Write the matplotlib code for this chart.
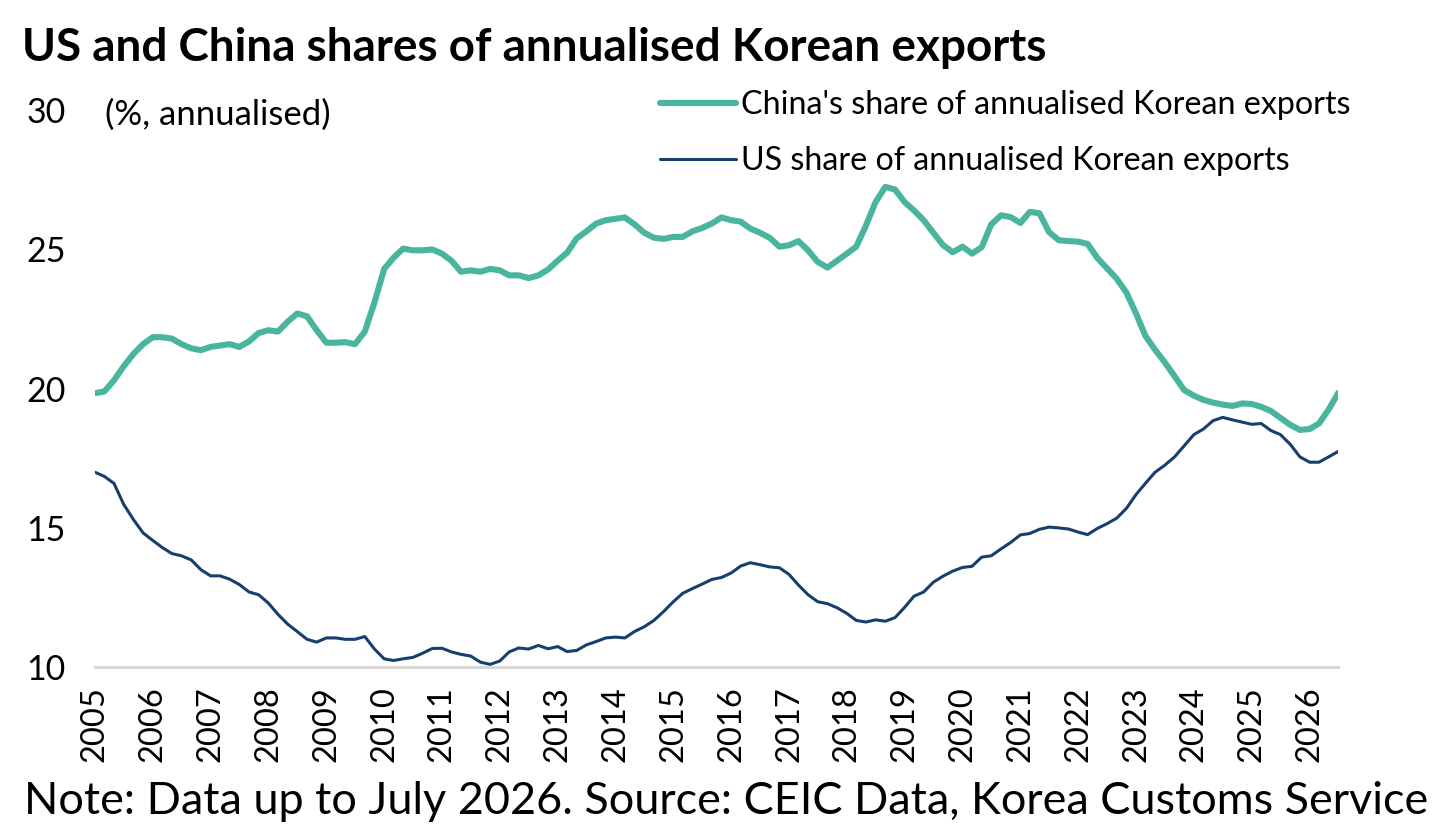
import numpy as np
import pandas as pd
import matplotlib
matplotlib.use("Agg")
import matplotlib.pyplot as plt
import matplotlib.dates as mdates

plt.rcParams['font.family'] = ['Lato', 'DejaVu Sans']

# bimonthly readings, Jan 2005 .. Jul 2026
china_share = [
    19.84, 19.9, 20.3, 20.8, 21.25, 21.6, 21.85, 21.85, 21.8, 21.6,
    21.45, 21.38, 21.5, 21.55, 21.6, 21.5, 21.7, 22.0, 22.1, 22.05,
    22.4, 22.7, 22.6, 22.1, 21.65, 21.65, 21.67, 21.6, 22.05, 23.1,
    24.3, 24.7, 25.03, 24.97, 24.97, 25.0, 24.85, 24.6, 24.2, 24.25,
    24.2, 24.3, 24.25, 24.07, 24.07, 23.97, 24.07, 24.28, 24.6, 24.88,
    25.4, 25.65, 25.93, 26.05, 26.1, 26.15, 25.9, 25.6, 25.42, 25.38,
    25.45, 25.45, 25.65, 25.77, 25.93, 26.15, 26.05, 26.0, 25.75, 25.6,
    25.42, 25.1, 25.15, 25.3, 24.97, 24.55, 24.35, 24.6, 24.85, 25.1,
    25.85, 26.7, 27.25, 27.15, 26.7, 26.4, 26.05, 25.6, 25.15, 24.9,
    25.1, 24.85, 25.08, 25.9, 26.23, 26.16, 25.95, 26.35, 26.3, 25.62,
    25.33, 25.3, 25.28, 25.2, 24.7, 24.33, 23.95, 23.45, 22.7, 21.9,
    21.4, 20.95, 20.45, 19.95, 19.75, 19.6, 19.5, 19.43, 19.38, 19.47,
    19.45, 19.35, 19.2, 18.95, 18.7, 18.52, 18.55, 18.75, 19.25, 19.85,
]
us_share = [
    17.0, 16.85, 16.6, 15.85, 15.3, 14.82, 14.55, 14.3, 14.08, 14.0,
    13.85, 13.5, 13.28, 13.28, 13.16, 12.97, 12.7, 12.6, 12.3, 11.9,
    11.55, 11.28, 11.0, 10.9, 11.05, 11.05, 11.0, 11.0, 11.1, 10.65,
    10.3, 10.24, 10.3, 10.35, 10.5, 10.67, 10.68, 10.55, 10.46, 10.4,
    10.18, 10.1, 10.22, 10.55, 10.69, 10.65, 10.78, 10.66, 10.74, 10.56,
    10.6, 10.8, 10.92, 11.05, 11.08, 11.05, 11.28, 11.45, 11.68, 12.0,
    12.35, 12.65, 12.82, 12.98, 13.15, 13.22, 13.38, 13.63, 13.75, 13.68,
    13.6, 13.57, 13.33, 12.95, 12.6, 12.35, 12.28, 12.13, 11.93, 11.68,
    11.62, 11.7, 11.65, 11.78, 12.15, 12.55, 12.7, 13.05, 13.27, 13.45,
    13.58, 13.62, 13.95, 14.0, 14.25, 14.48, 14.75, 14.8, 14.95, 15.03,
    15.0, 14.96, 14.85, 14.76, 14.98, 15.15, 15.35, 15.7, 16.2, 16.6,
    17.0, 17.25, 17.55, 17.95, 18.35, 18.55, 18.85, 18.97, 18.88, 18.8,
    18.72, 18.75, 18.5, 18.35, 18.0, 17.55, 17.36, 17.36, 17.55, 17.75,
]
dates = pd.date_range('2005-01-01', periods=len(china_share), freq='2MS')
years = list(range(2005, 2027))
yticks = [10, 15, 20, 25, 30]

teal = '#4ab59f'
navy = '#173f6e'

fig = plt.figure(figsize=(14.39, 8.35), dpi=100)
ax = fig.add_axes([0.066, 0.201, 0.864, 0.667])

ax.plot(dates, china_share, color=teal, lw=4.4, solid_capstyle='round',
        label="China's share of annualised Korean exports")
ax.plot(dates, us_share, color=navy, lw=2.2, solid_capstyle='round',
        label="US share of annualised Korean exports")

ax.set_ylim(10, 30)
ax.set_xlim(dates[0], dates[-1])
ax.set_yticks(yticks)
ax.set_xticks([pd.Timestamp(f'{y}-01-01') for y in years])
ax.set_xticklabels([str(y) for y in years], rotation=90)
ax.tick_params(axis='y', length=0, pad=21, labelsize=24.5)
ax.tick_params(axis='x', length=0, pad=14, labelsize=23.5)
for s in ['top', 'right', 'left']:
    ax.spines[s].set_visible(False)
ax.spines['bottom'].set_color('#d9d9d9')
ax.spines['bottom'].set_linewidth(2.2)
ax.spines['bottom'].set_zorder(0)

leg = ax.legend(loc='upper left', bbox_to_anchor=(0.4587, 0.892),
                bbox_transform=fig.transFigure, frameon=False, fontsize=23.2,
                handlelength=2.35, handletextpad=0.16, labelspacing=0.8,
                borderaxespad=0, borderpad=0)

fig.text(0.073, 0.862, '(%, annualised)', fontsize=25, va='center', ha='left')
fig.text(0.015, 0.943, 'US and China shares of annualised Korean exports',
         fontsize=33, fontweight='bold', va='center', ha='left')
fig.text(0.017, 0.04, 'Note: Data up to July 2026. Source: CEIC Data, Korea Customs Service',
         fontsize=32.4, va='center', ha='left')

fig.savefig('out.png', dpi=100)
